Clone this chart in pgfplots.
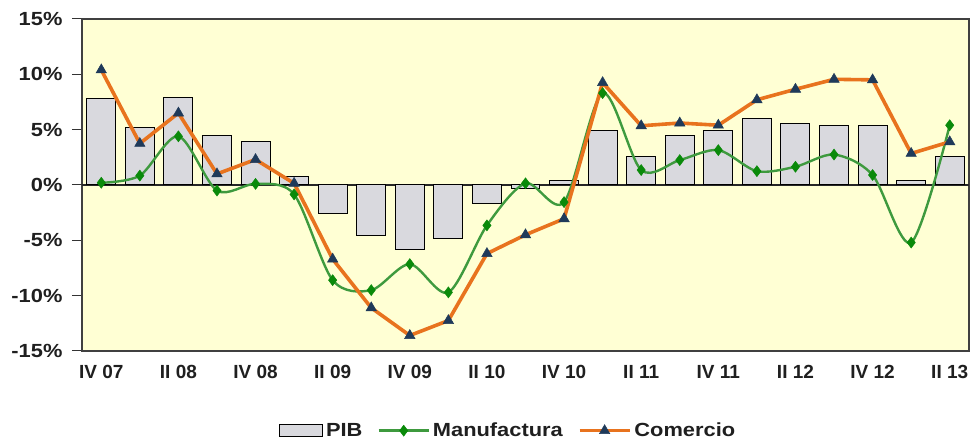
\documentclass[border=0pt]{standalone}
\usepackage{pgfplots}
\pgfplotsset{compat=1.18}
\usepackage{fontspec}
\setmainfont{Liberation Sans}
\newfontfamily\widefont[FakeStretch=1.15]{Liberation Sans}
\definecolor{bgyel}{HTML}{FFFFD4}
\definecolor{barfill}{HTML}{D9D9DE}
\definecolor{mangreen}{HTML}{3E9A3E}
\definecolor{mandark}{HTML}{0A8A0A}
\definecolor{comorange}{HTML}{E8731E}
\definecolor{comnavy}{HTML}{1F3A5A}
\newcommand{\lblfont}{\fontsize{19}{22}\selectfont\bfseries}
\newcommand{\widelbl}{\widefont\fontsize{19}{22}\selectfont\bfseries}
\pgfplotsset{
  mylinelegend/.style={legend image code/.code={\draw[mark repeat=2,mark phase=2,##1] plot coordinates {(0pt,0pt) (25pt,0pt) (50pt,0pt)};}},
  mybarlegend/.style={legend image code/.code={\draw[fill=barfill, draw=black, line width=1pt] (0pt,-6pt) rectangle (43pt,6pt);}},
}
\begin{document}
\begin{tikzpicture}
\begin{axis}[
  name=ax,
  scale only axis, width=887pt, height=332pt,
  xmin=-0.5, xmax=22.5, ymin=-15, ymax=15,
  axis background/.style={fill=bgyel},
  axis line style={draw=black!75, line width=1.2pt},
  tick align=outside,
  major tick length=10pt,
  ytick={-15,-10,-5,0,5,10,15},
  yticklabels={-15\%,-10\%,-5\%,0\%,5\%,10\%,15\%},
  ytick pos=left,
  ytick style={draw=black!80, line width=1pt},
  y tick label style={font=\widelbl, text=black!88, xshift=-6pt},
  xtick={0,2,...,22},
  xticklabels={IV 07,II 08,IV 08,II 09,IV 09,II 10,IV 10,II 11,IV 11,II 12,IV 12,II 13},
  xtick pos=bottom,
  xtick style={draw=none},
  x tick label style={font=\lblfont, text=black!88, yshift=-1pt},
  extra y ticks={0},
  extra y tick labels={},
  extra y tick style={grid=major, major grid style={draw=black!85, line width=1.2pt}, tick style={draw=none}},
  legend columns=3,
  legend style={at={(axis description cs:0.481,-0.24)}, anchor=center, draw=none, fill=none,
    font=\widelbl, text=black!88,
    nodes={inner xsep=3pt},
    /tikz/every even column/.append style={column sep=12pt}},
]
\addplot[ybar, bar width=0.75, fill=barfill, draw=black, line width=1pt, mybarlegend]
  coordinates {
  (0,7.8) (1,5.2) (2,7.9) (3,4.45) (4,3.9) (5,0.75) (6,-2.55) (7,-4.55)
  (8,-5.8) (9,-4.85) (10,-1.7) (11,-0.3) (12,0.4) (13,4.9) (14,2.6) (15,4.45)
  (16,4.9) (17,6.0) (18,5.6) (19,5.4) (20,5.4) (21,0.4) (22,2.6)};
\addlegendentry{PIB}
\addplot[smooth, color=mangreen, line width=2.4pt, mark=diamond*, mark size=5.5pt,
  mark options={fill=mandark, draw=mandark, line width=0.5pt}, mylinelegend]
  coordinates {
  (0,0.2) (1,0.85) (2,4.4) (3,-0.5) (4,0.1) (5,-0.85) (6,-8.6) (7,-9.5)
  (8,-7.15) (9,-9.7) (10,-3.65) (11,0.15) (12,-1.55) (13,8.3) (14,1.35) (15,2.25)
  (16,3.15) (17,1.25) (18,1.65) (19,2.75) (20,0.9) (21,-5.2) (22,5.4)};
\addlegendentry{Manufactura}
\addplot[color=comorange, line width=3.6pt, mark=triangle*, mark size=6pt,
  mark options={fill=comnavy, draw=comnavy, line width=0.5pt}, mylinelegend]
  coordinates {
  (0,10.4) (1,3.75) (2,6.5) (3,1.0) (4,2.3) (5,0.15) (6,-6.7) (7,-11.1)
  (8,-13.6) (9,-12.25) (10,-6.2) (11,-4.5) (12,-3.05) (13,9.25) (14,5.35) (15,5.6)
  (16,5.4) (17,7.7) (18,8.65) (19,9.55) (20,9.5) (21,2.85) (22,3.9)};
\addlegendentry{Comercio}
\end{axis}
\pgfresetboundingbox
\path[use as bounding box] ([xshift=-82pt,yshift=-90pt]ax.south west) rectangle ([xshift=1pt,yshift=19pt]ax.north east);
\end{tikzpicture}
\end{document}
